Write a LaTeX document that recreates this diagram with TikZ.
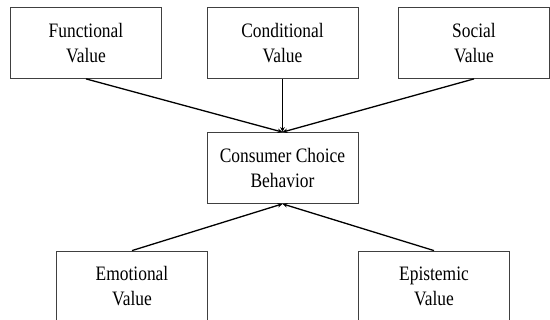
\documentclass[tikz,border=0pt]{standalone}
\usepackage{fontspec}
\setmainfont[FakeStretch=0.85]{Liberation Serif}
\usetikzlibrary{arrows.meta}
\begin{document}
\begin{tikzpicture}[x=1pt,y=1pt,
  box/.style={draw=black!75,line width=0.8pt,rectangle,minimum width=151pt,minimum height=71pt,align=center,inner sep=0pt,font=\fontsize{20.5}{25}\selectfont},
  conn/.style={line width=1.3pt,-{Stealth[length=5pt,width=4.5pt]}}]
\useasboundingbox (0,0) rectangle (550,320);
\clip (0,0) rectangle (550,320);
\node[box] (f) at (86,277) {Functional\\Value};
\node[box] (k) at (282.5,277) {Conditional\\Value};
\node[box] (s) at (474,277) {Social\\Value};
\node[box] (c) at (282.5,152) {Consumer Choice\\Behavior};
\node[box] (e) at (132,33.5) {Emotional\\Value};
\node[box] (p) at (434,33.5) {Epistemic\\Value};
\draw[conn] (f.south) -- (c.north);
\draw[conn] (k.south) -- (c.north);
\draw[conn] (s.south) -- (c.north);
\draw[conn] (e.north) -- (c.south);
\draw[conn] (p.north) -- (c.south);
\end{tikzpicture}
\end{document}
